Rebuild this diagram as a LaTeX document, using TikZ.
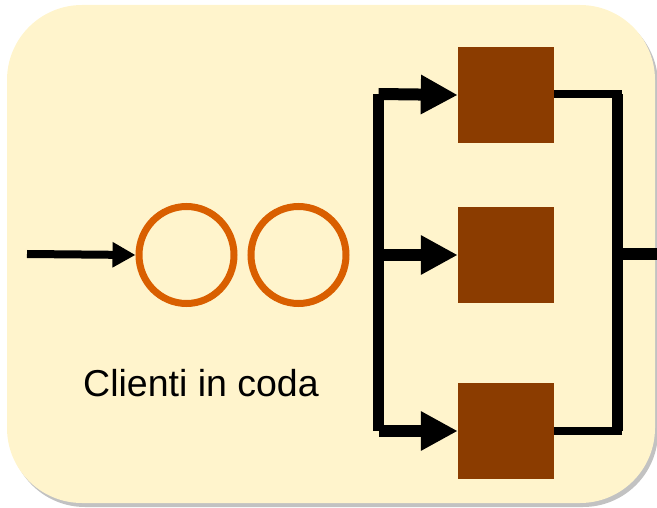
\documentclass[tikz,border=0pt]{standalone}
\usepackage{fontspec}
\setmainfont{Liberation Sans}
\usetikzlibrary{arrows.meta,shapes.geometric,shadows}
\definecolor{cream}{RGB}{255,244,204}
\definecolor{qorange}{RGB}{217,95,0}
\definecolor{srvbrown}{RGB}{139,60,0}
\tikzset{
  bgbox/.style={fill=cream, rounded corners=75pt,
    drop shadow={shadow xshift=3pt, shadow yshift=-4pt, opacity=0.4, fill=black!60}},
  client/.style={ellipse, draw=qorange, line width=7pt, minimum width=95pt, minimum height=97pt, inner sep=0pt},
  server/.style={rectangle, fill=srvbrown, minimum width=96pt, minimum height=96pt, inner sep=0pt},
  wire/.style={draw=black, line width=12pt, line cap=butt},
  thinwire/.style={draw=black, line width=8pt, line cap=butt},
  bigtip/.style={-{Triangle[length=37pt,width=37pt]}},
  smalltip/.style={-{Triangle[length=23pt,width=24pt]}},
  lbl/.style={font=\fontsize{37.5}{45}\selectfont, inner sep=0pt, anchor=base}
}
\begin{document}
\begin{tikzpicture}[x=1pt,y=-1pt]
\useasboundingbox (0,0) rectangle (657,508);
\path[bgbox] (7,5) rectangle (655,503);

\node[client] (c1) at (186.5,255) {};
\node[client] (c2) at (298.5,255) {};
\coordinate (in) at (27,254);
\draw[thinwire, smalltip] (in) -- (c1.west);

\node[server] (s1) at (506,95) {};
\node[server] (s2) at (506,255) {};
\node[server] (s3) at (506,431) {};

\coordinate (bt) at (378.5,94);
\coordinate (bm) at (378.5,255);
\coordinate (bb) at (378.5,431);
\draw[draw=black, line width=11pt] (bt) -- (bb);
\draw[wire, bigtip] (bt) -- (s1.west);
\draw[wire, bigtip] (bm) -- (s2.west);
\draw[wire, bigtip] (bb) -- (s3.west);

\coordinate (rt) at (617.5,94.5);
\coordinate (rtx) at (622,94.5);
\coordinate (rm) at (617.5,254);
\coordinate (rb) at (617.5,431);
\coordinate (rbx) at (622,431);
\coordinate (ex) at (660,254);
\draw[thinwire] (s1.east |- rt) -- (rtx);
\draw[thinwire] (s3.east |- rb) -- (rbx);
\draw[draw=black, line width=11pt] (rt) -- (rb);
\draw[wire] (rm) -- (ex);

\node[lbl] (txt) at (201,396) {Clienti in coda};
\end{tikzpicture}
\end{document}
